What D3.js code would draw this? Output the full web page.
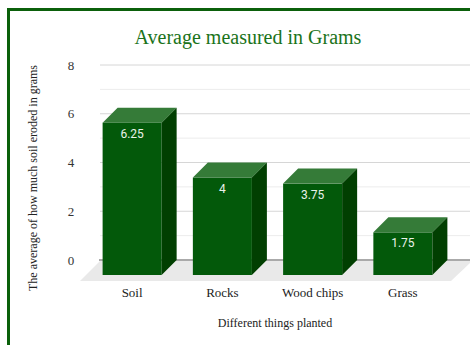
<!DOCTYPE html>
<html>
<head>
<meta charset="utf-8">
<script src="https://cdn.jsdelivr.net/npm/d3@7"></script>
<style>
  html, body { margin: 0; padding: 0; background: #fff; overflow: hidden; }
  svg { display: block; }
</style>
</head>
<body>
<svg id="chart" width="470" height="345"></svg>
<script>
// data
const categories = ["Soil", "Rocks", "Wood chips", "Grass"];
const values = [6.25, 4, 3.75, 1.75];
const valueLabels = ["6.25", "4", "3.75", "1.75"];
const yTicks = [0, 2, 4, 6, 8];
const yMinor = [1, 3, 5, 7];

const svg = d3.select("#chart");
const W = 470, H = 345;
const depth = 15;   // 3d offset of the bar back plane
const serif = "'Liberation Serif', 'Times New Roman', serif";

// frame border
svg.append("rect")
  .attr("x", 8.5).attr("y", 9.5)
  .attr("width", W + 20).attr("height", H + 20)
  .attr("fill", "none")
  .attr("stroke", "#0b600b")
  .attr("stroke-width", 3);

// scales: x in the front plane, y in the back plane
let x = d3.scaleBand()
  .domain(categories)
  .range([87, 448])
  .paddingInner(0.346)
  .paddingOuter(0.173);
let y = d3.scaleLinear().domain([0, 8]).range([260, 65]);

// floor
let y0 = y(0);
svg.append("path")
  .attr("d", d3.line()([[100, y0 + 1], [472, y0 + 1], [451, y0 + 21], [80, y0 + 21]]))
  .attr("fill", "#e9e9e9");

// gridlines
svg.append("g").selectAll("line")
  .data(yMinor)
  .join("line")
    .attr("x1", 100).attr("x2", W)
    .attr("y1", d => y(d)).attr("y2", d => y(d))
    .attr("stroke", "#ececec");
svg.append("g").selectAll("line")
  .data(yTicks.filter(d => d != 0))
  .join("line")
    .attr("x1", 100).attr("x2", W)
    .attr("y1", d => y(d)).attr("y2", d => y(d))
    .attr("stroke", "#d6d6d6");
svg.append("line")
  .attr("x1", 99).attr("x2", W)
  .attr("y1", y0).attr("y2", y0)
  .attr("stroke", "#555");

// y tick labels
svg.append("g").selectAll("text")
  .data(yTicks)
  .join("text")
    .attr("x", 71)
    .attr("y", d => y(d) + 4.5)
    .attr("text-anchor", "middle")
    .attr("font-family", serif)
    .attr("font-size", 13)
    .attr("fill", "#333")
    .text(d => d);

// bars
let bw = x.bandwidth();
let bars = svg.append("g").selectAll("g")
  .data(categories)
  .join("g");

bars.append("rect")
  .attr("x", d => x(d))
  .attr("y", (d, i) => y(values[i]) + depth)
  .attr("width", bw)
  .attr("height", (d, i) => y0 - y(values[i]))
  .attr("fill", "#03590a");

bars.append("path")
  .attr("d", (d, i) => {
    let x0 = x(d), yt = y(values[i]);
    return d3.line()([[x0, yt + depth], [x0 + depth, yt], [x0 + bw + depth, yt], [x0 + bw, yt + depth]]) + "Z";
  })
  .attr("fill", "#357b38");

bars.append("path")
  .attr("d", (d, i) => {
    let x1 = x(d) + bw, yt = y(values[i]);
    return d3.line()([[x1, yt + depth], [x1 + depth, yt], [x1 + depth, y0], [x1, y0 + depth]]) + "Z";
  })
  .attr("fill", "#013f01");

// value labels
bars.append("text")
  .attr("x", d => x(d) + bw / 2)
  .attr("y", (d, i) => y(values[i]) + depth + 15)
  .attr("text-anchor", "middle")
  .attr("font-family", "Roboto, Arial, sans-serif")
  .attr("font-size", 12)
  .attr("fill", "#eaf2ea")
  .text((d, i) => valueLabels[i]);

// category labels
svg.append("g").selectAll("text")
  .data(categories)
  .join("text")
    .attr("x", d => x(d) + bw / 2)
    .attr("y", 297)
    .attr("text-anchor", "middle")
    .attr("font-family", serif)
    .attr("font-size", 13)
    .attr("fill", "#222")
    .text(d => d);

// titles
svg.append("text")
  .attr("x", 248).attr("y", 44)
  .attr("text-anchor", "middle")
  .attr("font-family", serif)
  .attr("font-size", 20)
  .attr("fill", "#1a731a")
  .text("Average measured in Grams");

svg.append("text")
  .attr("x", 275).attr("y", 327)
  .attr("text-anchor", "middle")
  .attr("font-family", serif)
  .attr("font-size", 12)
  .attr("fill", "#222")
  .text("Different things planted");

svg.append("text")
  .attr("transform", "translate(37,178) rotate(-90)")
  .attr("text-anchor", "middle")
  .attr("font-family", serif)
  .attr("font-size", 12)
  .attr("fill", "#222")
  .text("The average of how much soil eroded in grams");
</script>
</body>
</html>
